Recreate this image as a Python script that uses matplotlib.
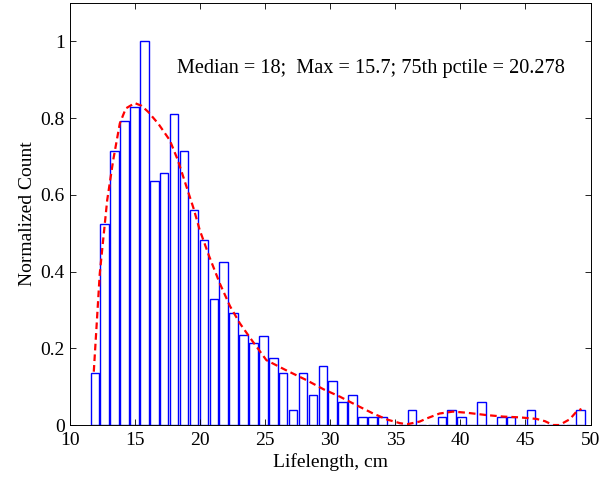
import numpy as np
import matplotlib
matplotlib.use("Agg")
import matplotlib.pyplot as plt

plt.rcParams['font.family'] = ['Liberation Serif', 'DejaVu Serif']

# histogram: 50 bins between the min and max lifelength
bin_first = 11.92
bin_last = 49.23
counts = [0.136, 0.523, 0.714, 0.792, 0.830, 1.000, 0.637, 0.657, 0.811, 0.714,
          0.560, 0.483, 0.329, 0.426, 0.291, 0.234, 0.213, 0.233, 0.175, 0.136,
          0.039, 0.136, 0.078, 0.155, 0.116, 0.059, 0.078, 0.020, 0.020, 0.020,
          0.0, 0.0, 0.039, 0.0, 0.0, 0.020, 0.039, 0.020, 0.0, 0.059,
          0.0, 0.020, 0.020, 0.0, 0.039, 0.0, 0.0, 0.0, 0.0, 0.039]

# smoothed density curve
fit_x = [11.84, 12.3, 12.87, 13.33, 13.84, 14.3, 14.99, 15.5, 16.02, 16.8,
         17.68, 18.3, 18.96, 19.5, 19.98, 20.7, 21.52, 22.3, 23.06, 24.0,
         25.1, 26.6, 28.18, 29.5, 30.74, 32.0, 33.3, 34.4, 35.35, 35.9,
         36.87, 37.4, 38.4, 39.43, 40.5, 42.0, 43.3, 44.56, 45.84, 46.5,
         47.12, 47.6, 48.4, 48.92, 49.3]
fit_y = [0.139, 0.395, 0.586, 0.69, 0.786, 0.825, 0.839, 0.832, 0.816, 0.785,
         0.742, 0.69, 0.621, 0.565, 0.508, 0.44, 0.369, 0.31, 0.265, 0.22,
         0.169, 0.143, 0.117, 0.093, 0.074, 0.052, 0.030, 0.014, 0.005, 0.002,
         0.009, 0.017, 0.030, 0.035, 0.032, 0.026, 0.022, 0.020, 0.016, 0.010,
         0.0, 0.0, 0.015, 0.035, 0.042]

label = "Median = 18;  Max = 15.7; 75th pctile = 20.278"

fig = plt.figure(figsize=(6.02, 4.83), dpi=100)
ax = fig.add_axes([0.116, 0.12, 0.865, 0.874])

centers = np.linspace(bin_first, bin_last, len(counts))
step = centers[1] - centers[0]
ax.bar(centers, counts, width=step * 0.86, color='white', edgecolor='blue',
       linewidth=1.0)
ax.plot(fit_x, fit_y, color='red', linestyle='--', linewidth=1.6,
        dashes=(3, 1.8))

ax.text(18.2, 0.93, label, fontsize=14.6, va='center', ha='left')

ax.set_xlim(10, 50)
ax.set_ylim(0, 1.1)
ax.set_xticks(range(10, 51, 5))
ax.set_yticks([0, 0.2, 0.4, 0.6, 0.8, 1.0])
ax.set_yticklabels(['0', '0.2', '0.4', '0.6', '0.8', '1'])
ax.tick_params(direction='in', top=True, right=True, labelsize=14, length=4,
               width=0.6)
ax.tick_params(axis='x', pad=5)
for s in ax.spines.values():
    s.set_linewidth(0.7)

ax.set_xlabel("Lifelength, cm", fontsize=14, labelpad=3)
ax.set_ylabel("Normalized Count", fontsize=14, labelpad=3)

fig.savefig("out.png", dpi=100)
